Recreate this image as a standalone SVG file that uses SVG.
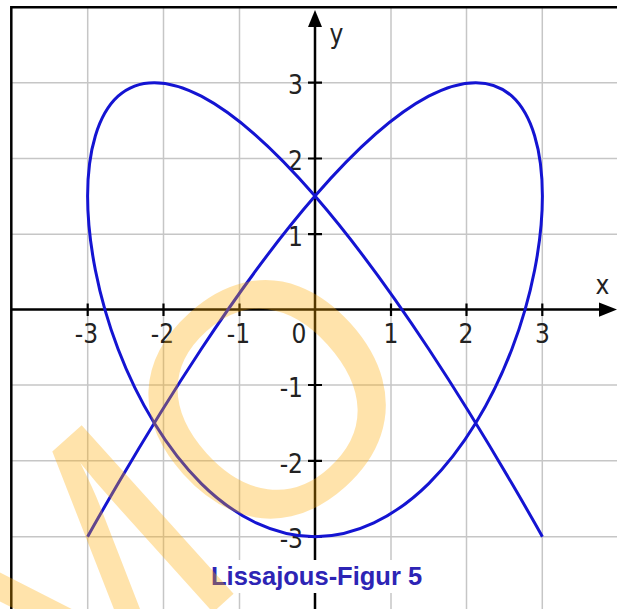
<svg xmlns="http://www.w3.org/2000/svg" width="617" height="609" viewBox="0 0 617 609">
<style>
.grid{stroke:#c6c6c6;stroke-width:1.5;fill:none}
.axis{stroke:#000;stroke-width:2.5;fill:none}
.tick{stroke:#000;stroke-width:2.2}
.lbl{font-family:"DejaVu Sans Condensed","DejaVu Sans",sans-serif;font-stretch:condensed;font-size:26px;fill:#222}
.curve{stroke:#1414d2;stroke-width:3;fill:none;stroke-linejoin:round}
</style>
<rect width="617" height="609" fill="#fff"/>
<g id="grid">
<path class="grid" d="M87.7 7V609M163.5 7V609M239.5 7V609M391 7V609M466.5 7V609M542.3 7V609M11 82.7H617M11 158.5H617M11 234.2H617M11 385H617M11 460.8H617M11 536.7H617"/>
</g>
<g id="frame">
<path class="axis" d="M11.3 609V7.2H617"/>
</g>
<g id="axes">
<path class="axis" d="M11 309.6H602M315 609V24"/>
<polygon points="315,10 308,27 322,27" fill="#000"/>
<polygon points="617,309.6 599,302.5 599,316.7" fill="#000"/>
<path class="tick" d="M87.7 303.5V316M163.5 303.5V316M239.5 303.5V316M391 303.5V316M466.5 303.5V316M542.3 303.5V316M308 82.7H322M308 158.5H322M308 234.2H322M308 385H322M308 460.8H322M308 536.7H322"/>
</g>
<g id="labels">
<text class="lbl" x="86.5" y="342.5" text-anchor="middle">-3</text>
<text class="lbl" x="162.5" y="342.5" text-anchor="middle">-2</text>
<text class="lbl" x="238.5" y="342.5" text-anchor="middle">-1</text>
<text class="lbl" x="299" y="342.5" text-anchor="middle">0</text>
<text class="lbl" x="391" y="342.5" text-anchor="middle">1</text>
<text class="lbl" x="466" y="342.5" text-anchor="middle">2</text>
<text class="lbl" x="542.5" y="342.5" text-anchor="middle">3</text>
<text class="lbl" x="303" y="94.2" text-anchor="end">3</text>
<text class="lbl" x="303" y="170" text-anchor="end">2</text>
<text class="lbl" x="303" y="245.7" text-anchor="end">1</text>
<text class="lbl" x="303" y="396.5" text-anchor="end">-1</text>
<text class="lbl" x="303" y="472.5" text-anchor="end">-2</text>
<text class="lbl" x="303" y="548.2" text-anchor="end">-3</text>
<text class="lbl" x="602.5" y="294" text-anchor="middle">x</text>
<text class="lbl" x="336.5" y="42.7" text-anchor="middle">y</text>
</g>
<g id="curve">
<path class="curve" d="M542.4 536.7C542.4 536.7 531.77 517.53 511.93 483.56C492.09 449.59 463.07 401.06 428.7 349.02C394.33 296.98 354.69 241.82 315 196.05C275.31 150.28 235.67 114.26 201.3 96.19C166.93 78.12 137.91 78.12 118.07 96.19C98.23 114.26 87.6 150.28 87.6 196.05C87.6 241.82 98.23 296.98 118.07 349.02C137.91 401.06 166.93 449.59 201.3 483.56C235.67 517.53 275.31 536.7 315 536.7C354.69 536.7 394.33 517.53 428.7 483.56C463.07 449.59 492.09 401.06 511.93 349.02C531.77 296.98 542.4 241.82 542.4 196.05C542.4 150.28 531.77 114.26 511.93 96.19C492.09 78.12 463.07 78.12 428.7 96.19C394.33 114.26 354.69 150.28 315 196.05C275.31 241.82 235.67 296.98 201.3 349.02C166.93 401.06 137.91 449.59 118.07 483.56C98.23 517.53 87.6 536.7 87.6 536.7"/>
</g>
<g id="title">
<rect x="205" y="560" width="226" height="33" fill="#fff"/>
<text x="211" y="584.5" font-family="Liberation Sans, Arial, sans-serif" font-weight="bold" font-size="25.5" fill="#2d24b5">Lissajous-Figur 5</text>
</g>
<g id="watermark">
<text transform="translate(49.4,759.7) rotate(-42)" font-family="Liberation Sans, Arial, sans-serif" font-size="330" fill="#ffaa00" fill-opacity="0.33">M<tspan dy="-8">O</tspan></text>
</g>
</svg>
